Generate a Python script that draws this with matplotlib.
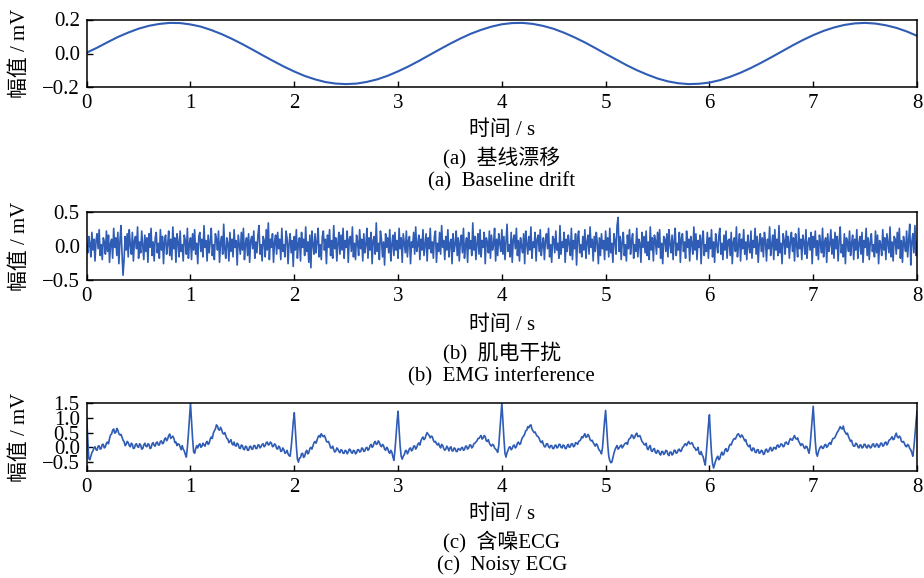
import numpy as np
import matplotlib
matplotlib.use("Agg")
import matplotlib.pyplot as plt

plt.rcParams['font.family'] = ['Liberation Serif', 'Noto Sans CJK SC', 'DejaVu Sans']
plt.rcParams['axes.unicode_minus'] = True

# ---- data ----
# (a) baseline drift, sampled every 0.1 s from 0 to 8 s
drift_t = np.linspace(0, 8, 81)
drift = [
    0.005, 0.034, 0.066, 0.097, 0.123, 0.146, 0.163, 0.174, 0.180, 0.179,
    0.171, 0.158, 0.138, 0.114, 0.086, 0.055, 0.022, -0.012, -0.045, -0.077,
    -0.106, -0.132, -0.152, -0.168, -0.177, -0.180, -0.177, -0.167, -0.152, -0.131,
    -0.105, -0.076, -0.044, -0.010, 0.024, 0.057, 0.088, 0.116, 0.139, 0.158,
    0.172, 0.179, 0.180, 0.174, 0.162, 0.145, 0.122, 0.095, 0.065, 0.032,
    -0.002, -0.035, -0.068, -0.098, -0.124, -0.147, -0.164, -0.175, -0.180, -0.178,
    -0.171, -0.157, -0.137, -0.113, -0.085, -0.054, -0.021, 0.013, 0.047, 0.079,
    0.108, 0.133, 0.153, 0.168, 0.177, 0.180, 0.176, 0.166, 0.151, 0.130,
    0.104,
]

# (b) EMG interference, sampled every 0.01 s (one row per 0.2 s)
emg_t = np.linspace(0, 8, 801)
emg = [
    0.02, -0.10, 0.14, 0.04, -0.16, 0.20, -0.06, 0.10, -0.22, 0.08, 0.18, -0.04, 0.24, -0.14, 0.02, -0.20, 0.12, 0.06, -0.12, 0.22,
    -0.08, 0.16, -0.24, 0.04, 0.10, -0.18, 0.26, -0.02, 0.12, -0.14, 0.20, -0.26, 0.06, 0.30, -0.10, -0.43, -0.20, 0.14, -0.06, 0.18,
    -0.16, 0.24, 0.02, -0.12, 0.20, -0.22, 0.08, 0.14, -0.04, 0.28, -0.18, 0.06, -0.10, 0.22, 0.00, -0.20, 0.16, -0.08, 0.12, -0.24,
    0.18, -0.02, 0.26, -0.14, 0.06, -0.22, 0.12, 0.20, -0.10, 0.04, -0.18, 0.24, -0.06, 0.14, -0.26, 0.08, 0.16, -0.12, 0.02, 0.22,
    -0.14, 0.10, -0.20, 0.28, -0.04, 0.12, -0.24, 0.18, 0.06, -0.16, 0.22, -0.08, 0.02, -0.22, 0.16, 0.08, -0.12, 0.26, -0.18, 0.04,
    0.12, -0.20, 0.18, -0.06, 0.24, -0.12, 0.04, -0.26, 0.14, 0.20, -0.08, 0.10, -0.16, 0.30, -0.02, 0.08, -0.22, 0.16, -0.10, 0.06,
    0.26, -0.14, 0.02, -0.20, 0.18, 0.10, -0.06, 0.22, -0.24, 0.06, 0.14, -0.12, 0.32, -0.04, -0.18, 0.12, 0.04, -0.22, 0.20, -0.08,
    0.10, -0.16, 0.24, -0.02, 0.08, -0.28, 0.16, 0.02, -0.12, 0.20, -0.06, 0.26, -0.20, 0.04, 0.12, -0.14, 0.18, -0.24, 0.08, 0.14,
    -0.04, 0.22, -0.18, 0.06, -0.10, 0.16, 0.30, -0.12, 0.02, -0.22, 0.14, 0.08, -0.16, 0.24, -0.06, 0.34, -0.20, 0.10, -0.02, 0.18,
    -0.24, 0.06, 0.16, -0.12, 0.20, -0.04, 0.10, -0.20, 0.26, -0.08, 0.02, -0.16, 0.22, 0.12, -0.26, 0.04, 0.18, -0.10, 0.08, -0.30,
    0.14, -0.06, 0.24, -0.18, 0.04, 0.12, -0.22, 0.20, -0.02, 0.10, -0.14, 0.28, -0.08, 0.06, -0.24, 0.16, -0.32, 0.22, 0.02, -0.12,
    0.18, -0.10, 0.06, 0.26, -0.16, 0.02, -0.20, 0.14, 0.22, -0.06, 0.10, -0.26, 0.16, -0.02, 0.24, -0.14, 0.08, -0.18, 0.30, -0.04,
    0.12, -0.22, 0.04, 0.20, -0.12, 0.16, -0.06, 0.26, -0.18, 0.08, -0.02, 0.22, -0.24, 0.10, 0.14, -0.08, 0.28, -0.16, 0.04, -0.20,
    0.16, 0.06, -0.14, 0.24, -0.04, 0.10, -0.22, 0.18, -0.10, 0.02, 0.26, -0.18, 0.12, -0.06, 0.20, -0.26, 0.08, 0.14, -0.12, 0.34,
    -0.08, 0.04, -0.20, 0.22, 0.10, -0.16, 0.06, -0.28, 0.18, -0.02, 0.12, -0.10, 0.24, -0.22, 0.02, 0.16, -0.14, 0.20, -0.06, 0.08,
    -0.18, 0.26, -0.04, 0.12, -0.24, 0.18, 0.04, -0.10, 0.22, -0.16, 0.08, 0.14, -0.26, 0.06, -0.02, 0.20, -0.12, 0.28, -0.08, 0.02,
    0.16, -0.20, 0.10, -0.06, 0.24, -0.14, 0.02, 0.18, -0.22, 0.12, -0.04, 0.26, -0.10, 0.06, -0.18, 0.14, 0.22, -0.24, 0.04, -0.08,
    0.20, -0.12, 0.30, -0.02, 0.08, -0.20, 0.14, -0.06, 0.24, -0.16, 0.04, 0.10, -0.26, 0.18, -0.08, 0.02, 0.22, -0.14, 0.12, -0.22,
    0.06, 0.16, -0.10, 0.26, -0.18, 0.02, 0.12, -0.24, 0.20, -0.04, 0.08, -0.14, 0.34, -0.06, 0.14, -0.20, 0.04, 0.18, -0.12, 0.24,
    -0.16, 0.08, -0.02, 0.20, -0.26, 0.12, 0.06, -0.10, 0.22, -0.18, 0.16, -0.06, 0.02, 0.26, -0.22, 0.10, -0.14, 0.18, 0.04, -0.08,
    0.24, -0.12, 0.14, -0.20, 0.06, 0.32, -0.08, 0.02, -0.16, 0.20, -0.24, 0.10, 0.16, -0.04, 0.26, -0.14, 0.08, -0.22, 0.12, 0.00,
    -0.10, 0.18, -0.26, 0.22, 0.04, -0.12, 0.14, -0.06, 0.28, -0.18, 0.06, -0.02, 0.20, -0.22, 0.10, 0.16, -0.08, 0.24, -0.14, 0.02,
    0.12, -0.20, 0.08, 0.18, -0.04, 0.26, -0.16, 0.02, -0.24, 0.14, 0.10, -0.10, 0.22, -0.06, 0.04, -0.18, 0.30, -0.12, 0.06, -0.02,
    0.20, -0.24, 0.10, -0.08, 0.16, 0.04, -0.14, 0.26, -0.20, 0.08, -0.04, 0.18, -0.28, 0.12, 0.22, -0.10, 0.02, -0.16, 0.14, -0.06,
    0.24, -0.18, 0.06, 0.16, -0.12, 0.28, -0.02, 0.10, -0.22, 0.14, -0.08, 0.20, 0.04, -0.26, 0.12, -0.14, 0.18, -0.04, 0.08, -0.20,
    0.22, -0.06, 0.12, -0.16, 0.26, -0.10, 0.04, -0.24, 0.18, 0.08, -0.12, 0.30, 0.42, -0.08, 0.14, -0.20, 0.06, 0.20, -0.14, 0.02,
    -0.22, 0.16, -0.04, 0.24, -0.12, 0.08, 0.18, -0.18, 0.02, -0.08, 0.26, -0.16, 0.10, 0.04, -0.24, 0.20, -0.02, 0.14, -0.10, 0.22,
    -0.14, 0.06, -0.20, 0.28, -0.06, 0.12, -0.22, 0.16, 0.08, -0.12, 0.20, -0.02, 0.24, -0.18, 0.04, -0.26, 0.14, 0.10, -0.08, 0.18,
    -0.16, 0.24, 0.02, -0.10, 0.16, -0.20, 0.08, 0.26, -0.14, 0.04, -0.06, 0.20, -0.24, 0.12, 0.18, -0.08, 0.06, -0.18, 0.22, -0.02,
    0.10, -0.22, 0.14, 0.04, -0.12, 0.28, -0.06, 0.18, -0.20, 0.08, -0.02, 0.16, -0.26, 0.10, 0.22, -0.14, 0.02, -0.08, 0.20, -0.18,
    0.12, -0.04, 0.24, -0.16, 0.06, -0.24, 0.18, 0.02, -0.10, 0.14, 0.26, -0.12, 0.04, -0.20, 0.16, -0.06, 0.22, -0.18, 0.08, 0.10,
    -0.14, 0.20, -0.26, 0.06, 0.12, -0.08, 0.28, -0.16, 0.02, 0.18, -0.22, 0.10, -0.04, 0.24, -0.12, 0.06, -0.20, 0.16, 0.00, -0.10,
    0.22, -0.18, 0.08, -0.02, 0.26, -0.12, 0.14, -0.24, 0.04, 0.18, -0.08, 0.12, -0.16, 0.20, 0.06, -0.22, 0.10, -0.04, 0.28, -0.14,
    0.02, 0.16, -0.20, 0.24, -0.06, 0.10, -0.14, 0.30, -0.10, 0.04, -0.26, 0.18, 0.08, -0.12, 0.22, -0.02, 0.14, -0.18, 0.06, 0.20,
    -0.08, 0.12, -0.22, 0.18, 0.02, -0.16, 0.26, -0.04, 0.10, -0.20, 0.16, 0.06, -0.12, 0.24, -0.18, 0.04, 0.12, -0.06, 0.20, -0.26,
    0.14, -0.02, 0.22, -0.14, 0.08, -0.20, 0.16, 0.04, -0.10, 0.26, -0.16, 0.06, 0.12, -0.24, 0.18, -0.08, 0.02, 0.24, -0.12, 0.10,
    -0.18, 0.20, -0.04, 0.14, -0.22, 0.08, 0.28, -0.10, 0.02, -0.16, 0.18, -0.26, 0.12, 0.06, -0.08, 0.22, -0.14, 0.04, 0.16, -0.20,
    0.10, -0.06, 0.24, -0.18, 0.04, 0.14, -0.12, 0.20, -0.24, 0.08, -0.02, 0.26, -0.14, 0.12, -0.20, 0.06, 0.18, -0.08, 0.02, -0.16,
    0.22, -0.10, 0.16, -0.26, 0.08, 0.02, -0.14, 0.24, -0.06, 0.12, -0.20, 0.18, 0.04, -0.10, 0.28, -0.16, 0.06, -0.22, 0.14, 0.10,
    -0.12, 0.20, -0.04, 0.26, -0.18, 0.08, -0.24, 0.14, 0.02, -0.08, 0.22, -0.16, 0.10, 0.32, -0.28, 0.06, 0.18, -0.10, 0.30, -0.14,
    0.06,
]

# (c) noisy ECG, sampled every 0.01 s (one row per 0.25 s)
ecg_t = np.linspace(0, 8, 801)
ecg = [
    1.00, 0.30, -0.38, -0.42, -0.30, -0.18, -0.12, -0.02, 0.02, -0.08, -0.10, 0.04, 0.05, -0.06, -0.04, 0.10, 0.10, -0.02, 0.02, 0.14, 0.18, 0.12, 0.30, 0.42, 0.45,
    0.58, 0.62, 0.48, 0.50, 0.64, 0.58, 0.46, 0.42, 0.44, 0.35, 0.24, 0.20, 0.06, 0.10, 0.20, 0.16, 0.06, 0.02, 0.14, 0.10, -0.04, -0.02, 0.10, 0.12, 0.02,
    0.00, 0.12, 0.08, -0.06, -0.04, 0.08, 0.14, 0.04, 0.02, 0.12, 0.10, -0.04, -0.02, 0.12, 0.16, 0.06, 0.04, 0.16, 0.18, 0.08, 0.08, 0.20, 0.22, 0.12, 0.15,
    0.28, 0.32, 0.22, 0.28, 0.40, 0.45, 0.30, 0.34, 0.38, 0.30, 0.16, 0.18, 0.06, 0.12, 0.10, 0.02, -0.08, 0.06, -0.06, -0.12, -0.24, -0.33, 0.00, 0.45, 1.00,
    1.50, 0.90, 0.30, -0.15, -0.20, -0.05, 0.06, -0.02, 0.08, 0.12, 0.00, 0.04, 0.14, 0.08, 0.04, 0.16, 0.20, 0.10, 0.14, 0.28, 0.35, 0.30, 0.48, 0.56, 0.62,
    0.76, 0.72, 0.60, 0.58, 0.68, 0.60, 0.48, 0.45, 0.50, 0.40, 0.30, 0.28, 0.16, 0.20, 0.26, 0.12, 0.08, 0.18, 0.06, 0.04, 0.14, 0.10, -0.02, -0.04, 0.08,
    0.06, -0.06, -0.08, 0.04, 0.02, -0.10, -0.10, 0.02, 0.04, -0.06, -0.06, 0.06, 0.06, -0.04, -0.04, 0.08, 0.08, -0.02, 0.02, 0.10, 0.12, 0.02, 0.06, 0.16, 0.18,
    0.08, 0.10, 0.18, 0.14, 0.02, 0.04, 0.12, 0.08, -0.04, -0.06, 0.04, 0.00, -0.14, -0.12, -0.02, -0.08, -0.20, -0.18, -0.10, -0.22, -0.28, -0.30, 0.00, 0.40, 0.85,
    1.17, 0.60, 0.05, -0.40, -0.50, -0.36, -0.35, -0.22, -0.20, -0.34, -0.30, -0.16, -0.10, -0.22, -0.18, -0.04, 0.00, -0.06, 0.05, 0.16, 0.20, 0.14, 0.25, 0.36, 0.40,
    0.34, 0.46, 0.40, 0.36, 0.40, 0.32, 0.20, 0.18, 0.20, 0.10, -0.02, -0.02, 0.04, -0.08, -0.16, -0.12, -0.02, -0.06, -0.14, -0.18, -0.08, -0.10, -0.20, -0.20, -0.10,
    -0.12, -0.22, -0.16, -0.06, -0.08, -0.18, -0.20, -0.10, -0.12, -0.22, -0.18, -0.08, -0.08, -0.16, -0.14, -0.02, -0.04, -0.14, -0.12, -0.02, 0.00, -0.10, -0.06, 0.06, 0.10,
    0.00, 0.04, 0.16, 0.20, 0.10, 0.12, 0.22, 0.16, 0.06, 0.02, 0.10, 0.06, -0.06, -0.10, 0.00, -0.04, -0.16, -0.20, -0.10, -0.16, -0.32, -0.44, -0.10, 0.35, 0.85,
    1.22, 0.60, 0.05, -0.30, -0.40, -0.30, -0.25, -0.12, -0.10, -0.22, -0.15, -0.04, -0.02, -0.12, -0.08, 0.04, 0.05, -0.06, 0.00, 0.10, 0.15, 0.08, 0.22, 0.30, 0.35,
    0.26, 0.30, 0.42, 0.50, 0.44, 0.40, 0.32, 0.38, 0.36, 0.24, 0.18, 0.20, 0.12, 0.08, 0.14, 0.04, -0.02, 0.10, 0.06, -0.04, -0.10, -0.06, 0.04, -0.02, -0.12,
    -0.02, 0.02, -0.12, -0.12, -0.02, -0.04, -0.14, -0.14, -0.04, -0.06, -0.10, -0.02, 0.00, -0.10, -0.08, 0.04, 0.04, -0.06, -0.02, 0.08, 0.08, -0.02, 0.02, 0.12, 0.14,
    0.18, 0.22, 0.30, 0.30, 0.36, 0.40, 0.28, 0.32, 0.40, 0.36, 0.22, 0.20, 0.26, 0.14, 0.08, 0.04, 0.10, 0.08, -0.02, -0.06, -0.10, -0.17, 0.05, 0.55, 1.00,
    1.50, 0.90, 0.30, -0.20, -0.33, -0.18, -0.10, 0.00, 0.02, -0.08, -0.04, 0.06, 0.08, -0.02, 0.02, 0.14, 0.18, 0.10, 0.12, 0.26, 0.34, 0.38, 0.45, 0.56, 0.58,
    0.70, 0.66, 0.74, 0.76, 0.62, 0.56, 0.50, 0.52, 0.44, 0.38, 0.36, 0.30, 0.20, 0.16, 0.22, 0.10, 0.02, 0.02, 0.12, 0.12, 0.02, -0.02, 0.06, 0.06, -0.04,
    -0.04, 0.06, 0.08, -0.02, 0.00, 0.10, 0.10, 0.00, -0.02, 0.08, 0.06, -0.04, -0.04, 0.06, 0.10, 0.00, 0.02, 0.12, 0.12, 0.02, 0.04, 0.16, 0.14, 0.10, 0.20,
    0.22, 0.26, 0.36, 0.32, 0.40, 0.46, 0.34, 0.36, 0.44, 0.38, 0.26, 0.22, 0.24, 0.16, 0.10, 0.04, 0.12, 0.08, -0.04, -0.10, -0.14, -0.22, 0.00, 0.45, 0.90,
    1.25, 0.65, 0.10, -0.30, -0.45, -0.52, -0.50, -0.35, -0.20, -0.08, 0.00, 0.06, -0.06, -0.02, 0.04, 0.08, -0.02, 0.04, 0.10, 0.14, 0.16, 0.10, 0.24, 0.30, 0.32,
    0.42, 0.40, 0.30, 0.34, 0.44, 0.48, 0.36, 0.38, 0.40, 0.30, 0.20, 0.16, 0.10, 0.08, 0.14, -0.04, -0.08, 0.02, 0.06, -0.12, -0.14, -0.06, -0.04, -0.18, -0.20,
    -0.10, -0.12, -0.22, -0.26, -0.14, -0.14, -0.24, -0.20, -0.10, -0.12, -0.24, -0.28, -0.16, -0.16, -0.26, -0.22, -0.10, -0.10, -0.20, -0.18, -0.08, -0.06, -0.14, -0.12, 0.00,
    0.02, 0.10, 0.12, 0.06, 0.14, 0.20, 0.12, 0.12, 0.16, 0.10, 0.00, -0.02, -0.10, -0.08, 0.00, -0.20, -0.24, -0.14, -0.26, -0.32, -0.48, -0.60, -0.20, 0.30, 0.75,
    1.10, 0.40, -0.20, -0.55, -0.70, -0.58, -0.45, -0.36, -0.30, -0.42, -0.38, -0.24, -0.16, -0.26, -0.22, -0.08, -0.04, -0.14, -0.10, 0.04, 0.10, 0.08, 0.18, 0.26, 0.30,
    0.28, 0.36, 0.44, 0.46, 0.38, 0.34, 0.42, 0.38, 0.30, 0.22, 0.26, 0.12, 0.06, 0.02, 0.08, -0.08, -0.12, -0.02, -0.04, -0.16, -0.18, -0.08, -0.08, -0.20, -0.18,
    -0.10, -0.12, -0.24, -0.22, -0.08, -0.06, -0.16, -0.14, -0.04, 0.00, -0.12, -0.10, 0.00, -0.02, -0.06, 0.06, 0.08, 0.00, 0.04, 0.12, 0.10, 0.02, 0.04, 0.16, 0.18,
    0.12, 0.10, 0.22, 0.30, 0.26, 0.24, 0.34, 0.40, 0.30, 0.28, 0.32, 0.20, 0.14, 0.06, 0.12, 0.10, 0.00, -0.04, 0.04, 0.02, -0.10, -0.20, 0.05, 0.50, 0.95,
    1.39, 0.80, 0.20, -0.20, -0.30, -0.15, -0.05, 0.02, 0.04, -0.04, -0.02, 0.08, 0.10, 0.00, 0.04, 0.12, 0.16, 0.10, 0.22, 0.30, 0.30, 0.34, 0.42, 0.50, 0.55,
    0.62, 0.70, 0.64, 0.62, 0.72, 0.56, 0.50, 0.44, 0.48, 0.36, 0.28, 0.20, 0.24, 0.10, 0.04, 0.04, 0.14, 0.12, 0.02, -0.02, 0.08, 0.08, -0.02, 0.00, 0.10,
    0.10, 0.00, -0.02, 0.08, 0.06, -0.02, 0.00, 0.10, 0.12, 0.02, 0.02, 0.12, 0.10, 0.00, 0.04, 0.14, 0.14, 0.04, 0.06, 0.16, 0.18, 0.08, 0.14, 0.24, 0.26,
    0.30, 0.36, 0.26, 0.28, 0.40, 0.48, 0.36, 0.32, 0.38, 0.34, 0.20, 0.18, 0.20, 0.12, 0.04, 0.02, 0.10, 0.06, -0.04, -0.08, -0.18, -0.30, 0.00, 0.40, 0.85,
    1.20,
]

xticks = [0, 1, 2, 3, 4, 5, 6, 7, 8]
panels = [
    (drift_t, drift, (-0.2, 0.2), [-0.2, 0.0, 0.2], "(a)  基线漂移", "(a)  Baseline drift"),
    (emg_t, emg, (-0.5, 0.5), [-0.5, 0.0, 0.5], "(b)  肌电干扰", "(b)  EMG interference"),
    (ecg_t, ecg, (-0.8, 1.5), [-0.5, 0.0, 0.5, 1.0, 1.5], "(c)  含噪ECG", "(c)  Noisy ECG"),
]

W, H = 924, 578
fig = plt.figure(figsize=(W / 100, H / 100), dpi=100)

line_color = '#2f5cb4'
axes_top = [19.5, 212, 403]      # pixel rows of the top of each axes
axes_h = 68
text_rows = [(130, 158, 182), (325, 353, 377), (514, 542, 565)]
x0, x1 = 86.7, 917
xc = (x0 + x1) / 2 / W

for (t, y, ylim, yticks, cap_cn, cap_en), top, rows in zip(panels, axes_top, text_rows):
    ax = fig.add_axes([x0 / W, 1 - (top + axes_h) / H, (x1 - x0) / W, axes_h / H])
    lw = 1.5 if y is drift else 1.2
    ax.plot(t, y, color=line_color, lw=lw)
    ax.set_xlim(0, 8)
    ax.set_ylim(*ylim)
    ax.set_xticks(xticks)
    ax.set_yticks(yticks)
    ax.set_yticklabels([f"{v:.1f}".replace("-", "\u2212") for v in yticks])
    ax.tick_params(direction='in', length=4, width=1, labelsize=15,
                   top=False, right=False, pad=5)
    for s in ax.spines.values():
        s.set_linewidth(1.1)
    ycen = 1 - (top + axes_h / 2) / H
    fig.text(20 / W, ycen, "幅值 / mV", rotation=90, ha='center', va='center', fontsize=15)
    fig.text(xc, 1 - rows[0] / H, "时间 / s", ha='center', va='center', fontsize=15)
    fig.text(xc, 1 - rows[1] / H, cap_cn, ha='center', va='center', fontsize=15)
    fig.text(xc, 1 - rows[2] / H, cap_en, ha='center', va='center', fontsize=15)

fig.savefig("out.png", dpi=100)
